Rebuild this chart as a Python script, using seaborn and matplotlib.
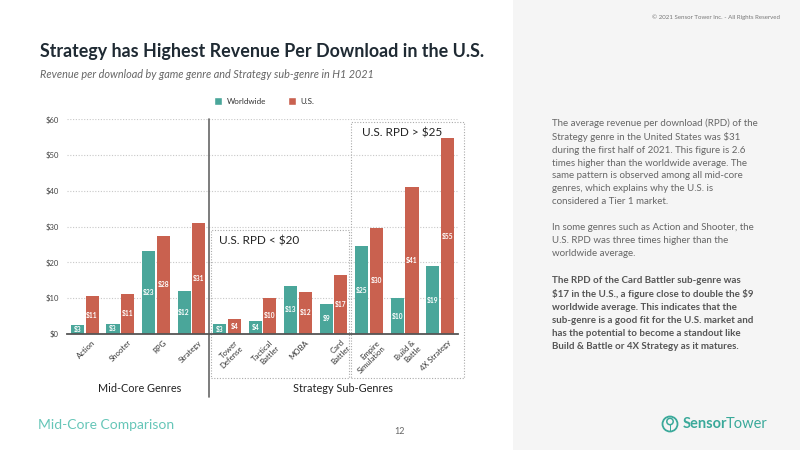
import matplotlib
matplotlib.use("Agg")
import matplotlib.pyplot as plt
import seaborn as sns
import pandas as pd
from matplotlib.patches import Rectangle, Circle
import matplotlib.transforms as mtransforms

genres = ["Action", "Shooter", "RPG", "Strategy", "Tower\nDefense", "Tactical\nBattler",
          "MOBA", "Card\nBattler", "Empire\nSimulation", "Build &\nBattle", "4X Strategy"]
worldwide = [2.5, 2.8, 23.2, 12.0, 2.7, 3.6, 13.5, 8.5, 24.5, 10.0, 18.9]
us = [10.5, 11.3, 27.5, 31.1, 4.3, 10.2, 11.8, 16.6, 29.7, 41.1, 54.7]
worldwide_labels = ["$3", "$3", "$23", "$12", "$3", "$4", "$13", "$9", "$25", "$10", "$19"]
us_labels = ["$11", "$11", "$28", "$31", "$4", "$10", "$12", "$17", "$30", "$41", "$55"]
series = ["Worldwide", "U.S."]
yticks = [0, 10, 20, 30, 40, 50, 60]
ytick_labels = ["$0", "$10", "$20", "$30", "$40", "$50", "$60"]

TEAL = "#4aa69a"
RED = "#c9614f"
LOGO = "#3aa99a"

sns.set_theme(style="white")
plt.rcParams["font.family"] = ["Lato", "DejaVu Sans"]

df = pd.DataFrame({
    "genre": genres * 2,
    "region": [series[0]] * len(genres) + [series[1]] * len(genres),
    "value": worldwide + us,
})

fig = plt.figure(figsize=(8, 4.5), dpi=100)
fig.patch.set_facecolor("white")

# right grey panel
fig.patches.append(Rectangle((513 / 800, 0), 1 - 513 / 800, 1, transform=fig.transFigure,
                             facecolor="#f5f5f5", edgecolor="none", zorder=0))

ax = fig.add_axes([67 / 800, 1 - 334 / 450, (458 - 67) / 800, (334 - 119.3) / 450])
ax.set_facecolor("none")
sns.barplot(data=df, x="genre", y="value", hue="region", hue_order=series,
            palette=[TEAL, RED], width=0.82, gap=0.1, ax=ax, legend=False,
            saturation=1, edgecolor="none")

for cont, labs in zip(ax.containers, [worldwide_labels, us_labels]):
    ax.bar_label(cont, labels=labs, label_type="center", color="white",
                 fontsize=4.8, fontweight="bold")

ax.set_xlim(-0.5, 10.5)
ax.set_ylim(0, 60)
ax.set_yticks(yticks)
ax.set_yticklabels(ytick_labels, fontsize=5.5, color="#444444")
ax.tick_params(axis="y", length=0, pad=6)
ax.yaxis.grid(True, linestyle=(0, (1, 1.5)), color="#c8c8c8", linewidth=0.8)
ax.set_axisbelow(True)
ax.set_xlabel("")
ax.set_ylabel("")
for s in ["left", "right", "top"]:
    ax.spines[s].set_visible(False)
ax.spines["bottom"].set_color("#555555")
ax.spines["bottom"].set_linewidth(1.3)
ax.tick_params(axis="x", length=0, pad=2)
ax.set_xticks(range(len(genres)))
ax.set_xticklabels(genres, rotation=45, ha="right", rotation_mode="anchor",
                   fontsize=5.6, color="#333333", linespacing=1.1)
for lbl in ax.get_xticklabels():
    lbl.set_transform(lbl.get_transform() + mtransforms.ScaledTranslation(7 / 100, -2 / 100, fig.dpi_scale_trans))

# separator line
trans = mtransforms.blended_transform_factory(ax.transData, ax.transAxes)
ax.plot([3.5, 3.5], [-0.293, 1.0], color="#666666", lw=1.2, transform=trans, clip_on=False)

# dotted boxes
for (x0, x1, y0, y1) in [(3.55, 7.44, -12.3, 29.1), (7.49, 10.68, -12.3, 59.3)]:
    ax.add_patch(Rectangle((x0, y0), x1 - x0, y1 - y0, fill=False, edgecolor="#aaaaaa",
                           linestyle=(0, (1, 1.5)), linewidth=0.8, clip_on=False, zorder=1))
ax.text(3.77, 26.0, "U.S. RPD < $20", fontsize=8.5, color="#222222", va="center", ha="left")
ax.text(7.8, 56.2, "U.S. RPD > $25", fontsize=8.5, color="#222222", va="center", ha="left")

# group labels
fig.text(140 / 800, 1 - 388 / 450, "Mid-Core Genres", fontsize=7.8, color="#222222", ha="center", va="center")
fig.text(343 / 800, 1 - 388 / 450, "Strategy Sub-Genres", fontsize=7.8, color="#222222", ha="center", va="center")

# legend
handles = [Rectangle((0, 0), 1, 1, facecolor=TEAL), Rectangle((0, 0), 1, 1, facecolor=RED)]
fig.legend(handles, series, loc="center", bbox_to_anchor=(264 / 800, 1 - 101 / 450), ncol=2,
           frameon=False, fontsize=5.8, handlelength=1.0, handleheight=1.0, columnspacing=2.7,
           handletextpad=0.6, labelcolor="#333333")

# titles
fig.text(40 / 800, 1 - 52 / 450, "Strategy has Highest Revenue Per Download in the U.S.",
         fontsize=12.9, fontweight="bold", color="#1f2a33", ha="left", va="center")
fig.text(40 / 800, 1 - 75 / 450, "Revenue per download by game genre and Strategy sub-genre in H1 2021",
         fontsize=7.8, style="italic", color="#666666", ha="left", va="center")

# copyright
fig.text(780 / 800, 1 - 17 / 450, "© 2021 Sensor Tower Inc. - All Rights Reserved",
         fontsize=4.4, color="#777777", ha="right", va="center")

# right panel text
p1 = ("The average revenue per download (RPD) of the\n"
      "Strategy genre in the United States was $31\n"
      "during the first half of 2021. This figure is 2.6\n"
      "times higher than the worldwide average. The\n"
      "same pattern is observed among all mid-core\n"
      "genres, which explains why the U.S. is\n"
      "considered a Tier 1 market.")
p2 = ("In some genres such as Action and Shooter, the\n"
      "U.S. RPD was three times higher than the\n"
      "worldwide average.")
p3 = ("The RPD of the Card Battler sub-genre was\n"
      "$17 in the U.S., a figure close to double the $9\n"
      "worldwide average. This indicates that the\n"
      "sub-genre is a good fit for the U.S. market and\n"
      "has the potential to become a standout like\n"
      "Build & Battle or 4X Strategy as it matures.")
fig.text(552 / 800, 1 - 118 / 450, p1, fontsize=7.0, color="#666666", ha="left", va="top",
         linespacing=1.55, parse_math=False)
fig.text(552 / 800, 1 - 223 / 450, p2, fontsize=7.0, color="#666666", ha="left", va="top",
         linespacing=1.55, parse_math=False)
fig.text(552 / 800, 1 - 276 / 450, p3, fontsize=7.0, color="#555555", ha="left", va="top",
         linespacing=1.55, fontweight="bold", parse_math=False)

# footer
fig.text(38 / 800, 1 - 425 / 450, "Mid-Core Comparison", fontsize=10.0, color="#66c6b8",
         ha="left", va="center")
fig.text(400 / 800, 1 - 432 / 450, "12", fontsize=6.5, color="#666666", ha="center", va="center")

# logo icon (in inches from the bottom-left corner)
inch = fig.dpi_scale_trans
fig.add_artist(Circle((6.70, (450 - 424) / 100), 0.075, transform=inch, fill=False,
                      edgecolor=LOGO, lw=1.3))
fig.add_artist(Circle((6.70, (450 - 421.5) / 100), 0.032, transform=inch, fill=False,
                      edgecolor=LOGO, lw=1.1))
fig.add_artist(Rectangle((6.695, (450 - 432) / 100), 0.01, 0.075, transform=inch,
                         facecolor=LOGO, edgecolor="none"))
fig.text(683 / 800, 1 - 424 / 450, "Sensor", fontsize=10.5, fontweight="bold", color=LOGO,
         ha="left", va="center")
fig.text(726 / 800, 1 - 424 / 450, "Tower", fontsize=10.5, color=LOGO, ha="left", va="center")

fig.savefig("out.png", dpi=100)
